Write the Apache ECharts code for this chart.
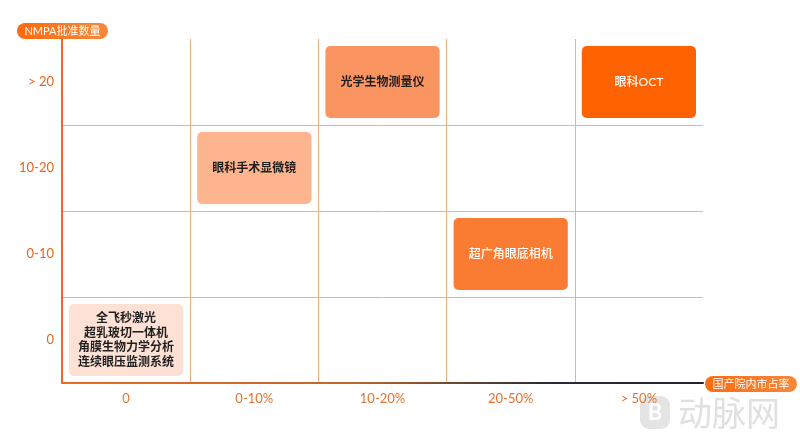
<!DOCTYPE html>
<html><head><meta charset="utf-8">
<script src="https://cdn.jsdelivr.net/npm/echarts@6/dist/echarts.min.js"></script>
<style>html,body{margin:0;padding:0;background:#fff}#c{width:800px;height:433px}</style>
</head><body><div id="c"></div>
<script>
var xCategories = ['0', '0-10%', '10-20%', '20-50%', '> 50%'];
var yCategories = ['0', '0-10', '10-20', '> 20'];
var xAxisTitle = '国产院内市占率';
var yAxisTitle = 'NMPA批准数量';
// [x category, y category, label, level]
var products = [
  ['0', '0', '全飞秒激光\n超乳玻切一体机\n角膜生物力学分析\n连续眼压监测系统', 0],
  ['0-10%', '10-20', '眼科手术显微镜', 1],
  ['10-20%', '> 20', '光学生物测量仪', 2],
  ['20-50%', '0-10', '超广角眼底相机', 3],
  ['> 50%', '> 20', '眼科OCT', 4]
];
var levelColors = ['#FDE1D5', '#FDB48F', '#FA9461', '#FA7C33', '#FF6200'];
var levelText = ['#1f1f1f', '#1f1f1f', '#1f1f1f', '#fff', '#fff'];

var FONT = 'Lato, "Noto Sans CJK SC", sans-serif';
var chart = echarts.init(document.getElementById('c'));
var gridColor = '#F3B07C';
var clear = 'rgba(0,0,0,0)';
chart.setOption({
  animation: false,
  grid: {left: 62, right: 97, top: 39, bottom: 50},
  xAxis: {
    type: 'category', data: xCategories, boundaryGap: true,
    axisLine: {show: true, lineStyle: {width: 2, color: new echarts.graphic.LinearGradient(0, 0, 1, 0, [
      {offset: 0, color: '#F06A1E'}, {offset: 0.45, color: '#C0682E'}, {offset: 0.75, color: '#2c2c36'}, {offset: 1, color: '#23232e'}])}},
    axisTick: {show: false},
    axisLabel: {color: '#E07434', fontSize: 13, margin: 9, fontFamily: FONT},
    splitLine: {show: true, lineStyle: {color: [gridColor, gridColor, gridColor, gridColor, gridColor, clear], width: 1}}
  },
  yAxis: {
    type: 'category', data: yCategories, boundaryGap: true,
    axisLine: {show: true, lineStyle: {color: '#F06A1E', width: 2}},
    axisTick: {show: false},
    axisLabel: {color: '#E2661F', fontSize: 13, margin: 8, fontFamily: FONT},
    splitLine: {show: true, lineStyle: {color: [gridColor, gridColor, gridColor, gridColor, clear], width: 1}}
  },
  series: [{
    type: 'custom',
    data: products,
    renderItem: function (params, api) {
      var c = api.coord([api.value(0), api.value(1)]);
      var s = api.size([1, 1]);
      var lvl = products[params.dataIndex][3];
      var w = s[0] - 14, h = s[1] - 14;
      return {
        type: 'group',
        children: [{
          type: 'rect',
          shape: {x: c[0] - w / 2, y: c[1] - h / 2, width: w, height: h, r: 5},
          style: {fill: levelColors[lvl]}
        }, {
          type: 'text',
          style: {
            x: c[0], y: c[1], text: products[params.dataIndex][2],
            fill: levelText[lvl], font: (lvl >= 3 ? '500 ' : 'bold ') + '12px ' + FONT,
            align: 'center', verticalAlign: 'middle', lineHeight: 14.5
          }
        }]
      };
    },
    encode: {x: 0, y: 1}
  }],
  graphic: [
    {type: 'group', left: 17, top: 23, children: [
      {type: 'rect', shape: {x: 0, y: 0, width: 91, height: 16, r: 8},
       style: {fill: new echarts.graphic.LinearGradient(0, 0, 1, 0, [{offset: 0, color: '#FF6A0E'}, {offset: 1, color: '#F7893A'}])}},
      {type: 'text', style: {x: 45.5, y: 8.5, text: yAxisTitle, fill: '#fff', font: '11px ' + FONT, align: 'center', verticalAlign: 'middle'}}
    ]},
    {type: 'group', left: 705, top: 376, children: [
      {type: 'rect', shape: {x: 0, y: 0, width: 92, height: 16, r: 8},
       style: {fill: new echarts.graphic.LinearGradient(0, 0, 1, 0, [{offset: 0, color: '#FF6A0E'}, {offset: 1, color: '#F7893A'}])}},
      {type: 'text', style: {x: 46, y: 8.5, text: xAxisTitle, fill: '#fff', font: '11px ' + FONT, align: 'center', verticalAlign: 'middle'}}
    ]},
    {type: 'group', left: 640, top: 396, z: -1, children: [
      {type: 'rect', shape: {x: 0, y: 0, width: 30, height: 33, r: 9}, style: {fill: '#E4E4E4'}},
      {type: 'text', style: {x: 15, y: 17, text: 'B', fill: '#fff', font: 'bold 22px ' + FONT, align: 'center', verticalAlign: 'middle'}},
      {type: 'text', style: {x: 38, y: 17, text: '动脉网', fill: '#E0E0E0', font: '34px "Noto Sans CJK SC"', align: 'left', verticalAlign: 'middle'}}
    ]}
  ]
});
</script></body></html>
